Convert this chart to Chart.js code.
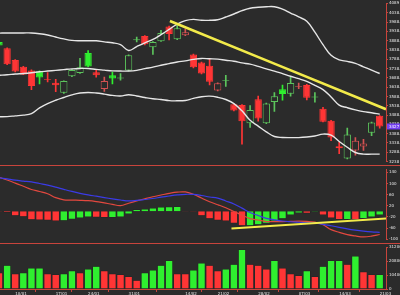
<!DOCTYPE html>
<html lang="en">
<head>
<meta charset="UTF-8">
<title>Chart</title>
<style>
  html, body { margin: 0; padding: 0; background: #2b2b2b; width: 400px; height: 295px; overflow: hidden; }
  .pane { position: absolute; left: 0; width: 400px; }
  .sep { position: absolute; left: 0; width: 400px; height: 1px; background: #c8443c; }
</style>
</head>
<body>
<div class="pane" style="top:0; height:165px;"><canvas id="cMain"></canvas></div>
<div class="sep" style="top:165px;"></div>
<div class="pane" style="top:166px; height:77px;"><canvas id="cMacd"></canvas></div>
<div class="sep" style="top:243px;"></div>
<div class="pane" style="top:244px; height:51px;"><canvas id="cVol"></canvas></div>

<script src="https://cdn.jsdelivr.net/npm/chart.js"></script>
<script>
// date ticks (candle index of each label)
const dates   = ['10/01', '17/01', '24/01', '31/01', '14/02', '21/02', '28/02', '07/03', '14/03', '21/03'];
const dateIdx = [2, 7, 11, 16, 23, 27, 32, 37, 42, 47];

// candles
const startClose = 3855;
const opens  = [3882,3848,3785,3748,3728,3724,3682,3662,3608,3697,3714,3822,3719,3628,3702,3685,3728,3891,3913,3853,3886,3965,3896,3917,
                3814,3771,3754,3621,3671,3547,3542,3444,3573,3444,3559,3627,3603,3640,3650,3583,3522,3458,3321,3255,3298,3319,3393,3484];
const highs  = [3885,3850,3787,3750,3731,3726,3717,3681,3673,3734,3793,3835,3733,3693,3719,3712,3812,3908,3916,3884,3944,3967,3970,3951,
                3816,3773,3790,3662,3702,3550,3545,3539,3590,3553,3609,3650,3692,3660,3653,3609,3530,3460,3341,3418,3367,3358,3451,3486];
const lows   = [3860,3760,3720,3705,3625,3656,3666,3614,3605,3695,3712,3748,3692,3616,3656,3676,3726,3882,3866,3814,3884,3893,3894,3915,
                3742,3709,3650,3618,3642,3510,3332,3422,3455,3442,3508,3568,3590,3630,3570,3558,3451,3350,3281,3253,3273,3298,3377,3418];
const closes = [3862,3762,3723,3707,3645,3690,3678,3649,3671,3731,3745,3750,3702,3671,3685,3690,3810,3896,3869,3882,3930,3925,3955,3934,
                3745,3712,3667,3659,3676,3513,3455,3516,3470,3551,3590,3601,3661,3645,3582,3588,3453,3367,3310,3384,3350,3336,3449,3427];

// bollinger bands
const bandUp  = [3929,3930,3930,3930,3930,3926,3919,3908,3898,3890,3888,3888,3888,3882,3877,3867,3836,3857,3877,3895,3921,3949,3978,3996,
                 4003,3998,3998,4001,4016,4032,4050,4063,4068,4071,4071,4058,4037,4016,3993,3934,3867,3810,3785,3777,3766,3748,3730,3712];
const bandMid = [3702,3705,3709,3712,3716,3721,3725,3729,3733,3737,3739,3739,3734,3730,3726,3725,3725,3729,3738,3746,3756,3765,3774,3780,
                 3788,3793,3791,3789,3783,3778,3769,3762,3750,3737,3725,3711,3697,3684,3669,3648,3625,3586,3542,3528,3516,3507,3501,3493];
const bandLow = [3479,3480,3484,3488,3496,3527,3550,3568,3583,3597,3607,3610,3607,3601,3594,3591,3598,3591,3583,3576,3572,3566,3565,3567,
                 3578,3587,3590,3584,3572,3550,3511,3460,3429,3398,3373,3368,3367,3367,3370,3376,3386,3380,3346,3315,3287,3278,3278,3278];

// trend line on price (candle index, price)
const trendX = [21.1, 47.78];
const trendY = [3994, 3520];

// macd
const macd   = [122.6,112.5,101.6,90.2,78.7,71.5,63.3,49.2,41.3,40.3,39.7,38.4,35.1,30.2,25.2,20.7,29.2,37.4,45.2,52.5,58.7,64.6,68.9,69.8,
                61.3,47.9,34.4,23.9,12.8,-0.7,-13.1,-26.2,-31.1,-36.7,-37,-37,-36.1,-35.4,-36.1,-38.7,-48.2,-65.6,-75.7,-83.6,-88.5,-91.8,-89.2,-83.3];
const signal = [120.7,116.4,112.1,108.9,105.9,100,94.1,86.9,79,71.5,64.9,59.3,54.4,49.5,44.9,40.7,37.4,39.3,42.6,46.2,50.8,55.1,59,61.3,
                60.7,57,51.5,47.5,37.4,26.6,11.5,-4.3,-14.8,-25.2,-30.5,-34.8,-37.4,-39.3,-41,-42.6,-46.6,-51.8,-57.4,-63,-67.5,-71.1,-73.8,-75.4];
const hist   = [-1.6,-4.3,-15.4,-19.7,-30,-31,-32,-35.1,-33.8,-28.5,-23.9,-20.7,-21.2,-22.5,-21.8,-20.5,-9.8,6.5,8.8,12.1,15.4,16.4,17.4,1.6,
                -1.6,-15.4,-26.2,-31.8,-35.1,-42.6,-52,-51.5,-48.2,-42.6,-35.1,-26.2,-13.1,-6,-6.5,-2,-12.8,-23.6,-29.5,-29,-29.5,-26,-20.7,-13];
const macdTrendX = [28.7, 47.78];
const macdTrendY = [-62, -26];

// volume
const volume = [12200,17800,11500,12200,15700,15700,11500,10800,11500,13600,12200,15000,17100,13600,11500,10800,9400,6600,12200,14300,17800,21300,11500,11500,
                14300,19500,17800,13600,15000,18500,29700,18500,17800,15000,21300,15700,11500,10100,13600,9400,17100,21300,21300,18500,24800,12900,10800,10800];
const volUp  = [0,1,0,1,1,1,0,0,1,1,0,1,1,0,0,0,0,0,1,1,1,1,0,0,1,1,0,0,1,1,1,0,0,0,1,0,0,0,1,0,1,1,1,0,1,0,0,1];

// ---- styles ----
const BG = '#2b2b2b';
const RED_AX = '#c8443c';
const GREEN = '#2fef2f';
const RED = '#ff3535';
const GREEN_EDGE = '#5cc45c';
const RED_EDGE = '#d45252';
const WHITE = '#e6e6e6';
const YELLOW = '#f2ea4a';
const X_MIN = 0.12, X_MAX = 47.78;
const tickFont = { size: 4, family: 'DejaVu Sans' };

Chart.defaults.animation = false;
Chart.defaults.events = [];
Chart.defaults.plugins.legend.display = false;
Chart.defaults.plugins.tooltip.enabled = false;
Chart.defaults.maintainAspectRatio = false;

const pts = (arr) => arr.map((v, i) => ({ x: i, y: v }));

const candleUp = closes.map((c, i) => c >= (i ? closes[i - 1] : startClose));
const hollow = closes.map((c, i) => c > opens[i]);
const edgeCol = closes.map((c, i) => {
    if (hollow[i]) return candleUp[i] ? GREEN_EDGE : RED_EDGE;
    return candleUp[i] ? GREEN : RED;
});
const fillCol = closes.map((c, i) => hollow[i] ? BG : (candleUp[i] ? GREEN : RED));

function xAxis() {
    return { type: 'linear', min: X_MIN, max: X_MAX, offset: false, display: false };
}

function yAxis(min, max, step) {
    return {
        position: 'right',
        min: min, max: max,
        border: { color: RED_AX, width: 1 },
        grid: { drawOnChartArea: false, color: RED_AX, tickLength: 2 },
        ticks: {
            stepSize: step, includeBounds: false, color: WHITE, font: tickFont, padding: 1,
            callback: (v) => String(v)
        },
        afterFit: (s) => { s.width = 14; }
    };
}

// purple tag for last price
const lastTag = {
    id: 'lastTag',
    afterDraw(chart) {
        const s = chart.scales.y;
        const v = closes[closes.length - 1];
        const py = s.getPixelForValue(v);
        const ctx = chart.ctx;
        ctx.save();
        ctx.fillStyle = '#7440f0';
        ctx.fillRect(s.left + 1, py - 3, s.width - 1, 6);
        ctx.fillStyle = '#ffffff';
        ctx.font = '4px DejaVu Sans';
        ctx.textBaseline = 'middle';
        ctx.fillText(String(v), s.left + 3, py + 0.3);
        ctx.restore();
    }
};

const lineDs = (data, color, width, order) => ({
    type: 'line', data: data, borderColor: color, borderWidth: width,
    pointRadius: 0, tension: 0.4, fill: false, order: order
});

new Chart(document.getElementById('cMain'), {
    type: 'bar',
    data: {
        datasets: [
            lineDs(pts(bandUp), WHITE, 1.4, 0),
            lineDs(pts(bandMid), WHITE, 1.4, 0),
            lineDs(pts(bandLow), WHITE, 1.4, 0),
            lineDs(trendX.map((x, i) => ({ x: x, y: trendY[i] })), YELLOW, 2.6, -1),
            {
                data: opens.map((o, i) => ({ x: i, y: [o, closes[i]] })),
                backgroundColor: fillCol, borderColor: edgeCol, borderWidth: 1,
                borderSkipped: false, grouped: false,
                barPercentage: 0.9, categoryPercentage: 1, order: 1
            },
            {
                data: lows.map((l, i) => ({ x: i, y: [l, highs[i]] })),
                backgroundColor: edgeCol, barThickness: 1, grouped: false, order: 2
            }
        ]
    },
    options: {
        layout: { padding: 0 },
        scales: { x: xAxis(), y: yAxis(3238, 4089, 50) }
    },
    plugins: [lastTag]
});

new Chart(document.getElementById('cMacd'), {
    type: 'bar',
    data: {
        datasets: [
            {
                data: pts(hist),
                backgroundColor: hist.map((v, i) => (i && v < hist[i - 1]) || (!i && v < 0) ? RED : GREEN),
                borderColor: '#1e1e1e', borderWidth: 0.5,
                barPercentage: 0.92, categoryPercentage: 1, order: 2
            },
            lineDs(pts(signal), '#3b3be6', 1.2, 1),
            lineDs(pts(macd), '#e2483f', 1.2, 1),
            lineDs(macdTrendX.map((x, i) => ({ x: x, y: macdTrendY[i] })), YELLOW, 2, 0)
        ]
    },
    options: {
        layout: { padding: 0 },
        scales: { x: xAxis(), y: yAxis(-101.6, 150.8, 20) }
    }
});

new Chart(document.getElementById('cVol'), {
    type: 'bar',
    data: {
        datasets: [{
            data: pts(volume),
            backgroundColor: volUp.map(u => u ? GREEN : RED),
            borderColor: '#1e1e1e', borderWidth: 0.5,
            barPercentage: 0.92, categoryPercentage: 1
        }]
    },
    options: {
        layout: { padding: 0 },
        scales: {
            x: {
                type: 'linear', min: X_MIN, max: X_MAX, offset: false,
                border: { color: RED_AX, width: 1 },
                grid: { drawOnChartArea: false, color: RED_AX, tickLength: 3 },
                afterBuildTicks: (s) => { s.ticks = dateIdx.map(v => ({ value: v })); },
                afterFit: (s) => { s.height = 6; s.paddingLeft = 0; s.paddingRight = 0; },
                ticks: {
                    autoSkip: false, maxRotation: 0, align: 'start', padding: 0,
                    color: WHITE, font: tickFont,
                    callback: (v) => dates[dateIdx.indexOf(v)]
                }
            },
            y: yAxis(0, 31200, 5000)
        }
    }
});
</script>
</body>
</html>
